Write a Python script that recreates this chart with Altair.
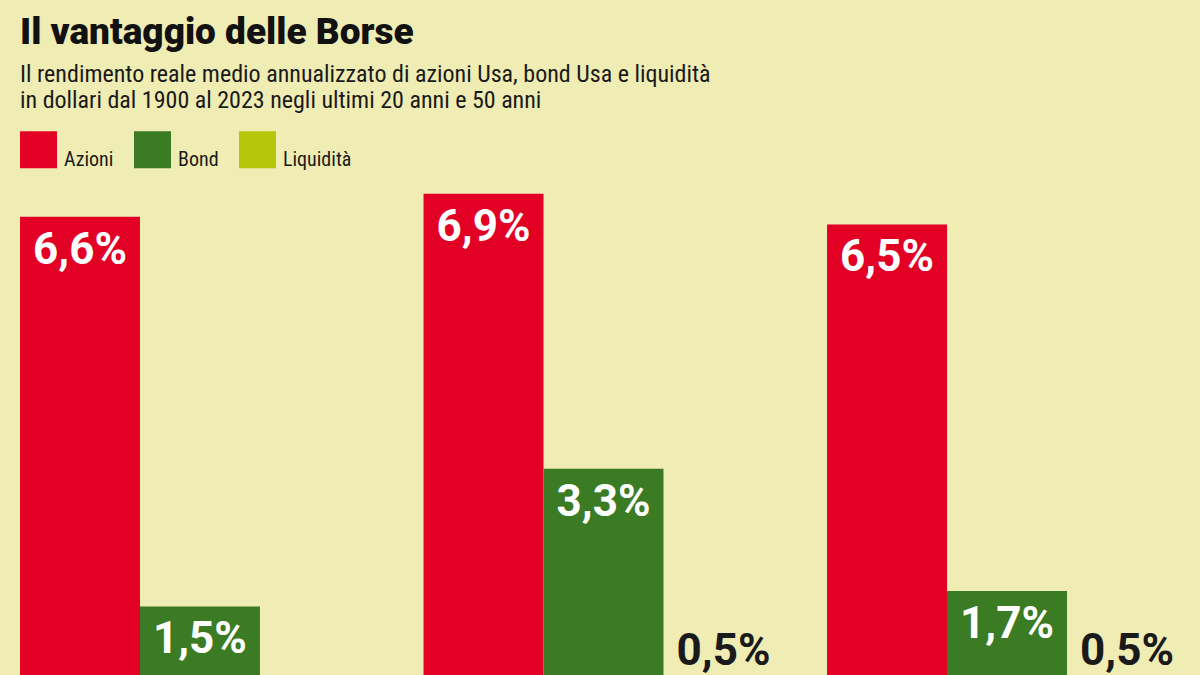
import altair as alt
import pandas as pd

groups = ["1900-2023", "Ultimi 50 anni", "Ultimi 20 anni"]
series = ["Azioni", "Bond", "Liquidità"]
colors = ["#e20024", "#3a7b23", "#b5c70a"]
azioni = [6.6, 6.9, 6.5]
bond = [1.5, 3.3, 1.7]
liquidita = [None, 0.5, 0.5]

rows = []
for i, g in enumerate(groups):
    for s, vals in zip(series, [azioni, bond, liquidita]):
        if vals[i] is not None:
            rows.append({"group": g, "series": s, "v": vals[i]})
df = pd.DataFrame(rows)

FONT = "Roboto Condensed, Liberation Sans Narrow, DejaVu Sans Condensed, Roboto, sans-serif"
BOLD = "Roboto, sans-serif"

base = alt.Chart(df).transform_calculate(
    label="replace(format(datum.v, '.1f'), '.', ',') + '%'"
).encode(
    x=alt.X("group:N", sort=groups, axis=None,
            scale=alt.Scale(paddingInner=0.108, paddingOuter=0)),
    xOffset=alt.XOffset("series:N", sort=series,
                        scale=alt.Scale(domain=series, paddingInner=0, paddingOuter=0)),
    y=alt.Y("v:Q", axis=None,
            scale=alt.Scale(domain=[0.602, 7.081], nice=False, zero=False)),
)

bars = base.mark_bar(clip=True).encode(
    y2=alt.datum(0),
    color=alt.Color("series:N", sort=series,
                    scale=alt.Scale(domain=series, range=colors),
                    legend=alt.Legend(title=None, orient="none", legendX=0, legendY=-49,
                                      direction="horizontal", columns=3, gridAlign="each",
                                      columnPadding=20, symbolType="square", symbolSize=1369,
                                      symbolStrokeWidth=0, labelOffset=7, labelFontSize=20,
                                      labelFont=FONT, labelColor="#1a1a1a",
                                      labelBaseline="top", symbolOpacity=1)),
)

inside = base.transform_filter("datum.v >= 1").mark_text(
    dy=47, baseline="alphabetic", fontSize=44, fontWeight="bold", font=BOLD, color="white"
).encode(text="label:N")

outside = base.transform_filter("datum.v < 1").mark_text(
    dy=-18, baseline="alphabetic", fontSize=44, fontWeight="bold", font=BOLD, color="#1a1a1a"
).encode(text="label:N")

chart = alt.layer(bars, inside, outside).properties(
    width=1167, height=495,
    title=alt.TitleParams(
        "Il vantaggio delle Borse",
        subtitle=["Il rendimento reale medio annualizzato di azioni Usa, bond Usa e liquidità",
                  "in dollari dal 1900 al 2023 negli ultimi 20 anni e 50 anni"],
        anchor="start", frame="group", orient="top",
        font=BOLD, fontSize=37, fontWeight=900, color="#111111",
        subtitleFont=FONT, subtitleFontSize=24, subtitleColor="#1a1a1a",
        subtitleLineHeight=26, subtitlePadding=11, offset=17,
    ),
    autosize="none",
    padding={"left": 20, "top": 180, "right": 13, "bottom": 0},
).configure(background="#efecb4").configure_view(stroke=None)

chart.save("out.html", embed_options={"renderer": "svg", "actions": False})
